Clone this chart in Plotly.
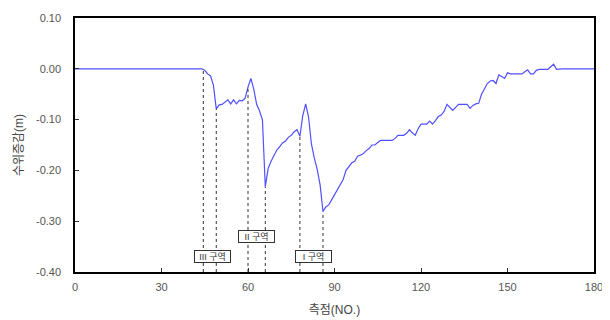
import numpy as np
import plotly.graph_objects as go

# Station numbers and water-level change (m)
stations = list(range(0, 181))
level_change = (
    [0.0] * 45 +                     # 0-44
    [-0.003, -0.010, -0.014, -0.032, -0.079,          # 45-49
     -0.071, -0.070, -0.065, -0.061, -0.069,          # 50-54
     -0.061, -0.069, -0.062, -0.063, -0.058,          # 55-59
     -0.036, -0.019, -0.040, -0.070, -0.083,          # 60-64
     -0.100, -0.232, -0.196, -0.182, -0.170,          # 65-69
     -0.160, -0.153, -0.146, -0.142, -0.135,          # 70-74
     -0.131, -0.124, -0.120, -0.133, -0.092,          # 75-79
     -0.069, -0.095, -0.148, -0.176, -0.198,          # 80-84
     -0.228, -0.281, -0.272, -0.268, -0.258,          # 85-89
     -0.248, -0.239, -0.228, -0.218, -0.200,          # 90-94
     -0.192, -0.185, -0.182, -0.172, -0.170,          # 95-99
     -0.167, -0.161, -0.157, -0.150, -0.150,          # 100-104
     -0.145, -0.141, -0.141, -0.141, -0.141,          # 105-109
     -0.141, -0.137, -0.131, -0.131, -0.131,          # 110-114
     -0.127, -0.120, -0.126, -0.131, -0.118,          # 115-119
     -0.109, -0.109, -0.109, -0.103, -0.109,          # 120-124
     -0.102, -0.094, -0.091, -0.084, -0.070,          # 125-129
     -0.076, -0.082, -0.076, -0.070, -0.070,          # 130-134
     -0.070, -0.070, -0.078, -0.072, -0.069,          # 135-139
     -0.068, -0.050, -0.040, -0.029, -0.024,          # 140-144
     -0.023, -0.029, -0.012, -0.015, -0.019,          # 145-149
     -0.008, -0.010, -0.010, -0.010, -0.010,          # 150-154
     -0.010, -0.006, -0.002, -0.010, -0.010,          # 155-159
     -0.003, -0.001, -0.001, -0.001, -0.001,          # 160-164
     0.004, 0.009, -0.001] +                          # 165-167
    [0.0] * 13                       # 168-180
)

# Zone boundary stations (dashed drop lines)
boundary_stations = [44.5, 49, 60, 66, 78, 86]

# Zone labels
zone_labels = ["III 구역", "II 구역", "I 구역"]
zone_label_x = [47.7, 62.9, 82.6]
zone_label_y = [-0.37, -0.331, -0.37]

y_ticks = [0.10, 0.00, -0.10, -0.20, -0.30, -0.40]
x_ticks = [0, 30, 60, 90, 120, 150, 180]

FONT = "Liberation Sans, Noto Sans CJK KR, sans-serif"

fig = go.Figure()
fig.add_trace(go.Scatter(
    x=stations, y=level_change, mode="lines",
    line=dict(color="#5050ff", width=1.2),
    showlegend=False, hoverinfo="skip"))

for bx in boundary_stations:
    top = float(np.interp(bx, stations, level_change))
    fig.add_shape(type="line", x0=bx, x1=bx, y0=-0.40, y1=top,
                  xref="x", yref="y",
                  line=dict(color="#333333", width=1, dash="dot"))

for txt, lx, ly in zip(zone_labels, zone_label_x, zone_label_y):
    fig.add_annotation(x=lx, y=ly, text=txt, showarrow=False,
                       xref="x", yref="y", width=33, height=9,
                       font=dict(family=FONT, size=9, color="#333333"),
                       bgcolor="white", bordercolor="#333333",
                       borderwidth=1, borderpad=1)

# The page body has an 8px default margin; size the figure to fit inside it.
fig.update_layout(
    width=602, height=312,
    margin=dict(l=67, r=16, t=10, b=48),
    paper_bgcolor="white", plot_bgcolor="white",
    font=dict(family=FONT, size=11, color="#555555"),
    xaxis=dict(range=[0, 180], tickvals=x_ticks, ticktext=[str(v) for v in x_ticks],
               ticks="inside", ticklen=4, tickcolor="#333333",
               showline=True, linecolor="black", linewidth=1.5, mirror=True,
               showgrid=False, zeroline=False, automargin=False,
               ticklabelstandoff=4,
               title=dict(text="측점(NO.)", standoff=14,
                          font=dict(family=FONT, size=12, color="#444444"))),
    yaxis=dict(range=[-0.40, 0.10], tickvals=y_ticks,
               ticktext=[f"{v:.2f}" for v in y_ticks],
               ticks="inside", ticklen=4, tickcolor="#333333",
               showline=True, linecolor="black", linewidth=1.5, mirror=True,
               showgrid=False, zeroline=False, automargin=False,
               ticklabelstandoff=10,
               title=dict(text="수위증감(m)", standoff=10,
                          font=dict(family=FONT, size=12, color="#444444"))),
)

fig.write_html("out.html")
